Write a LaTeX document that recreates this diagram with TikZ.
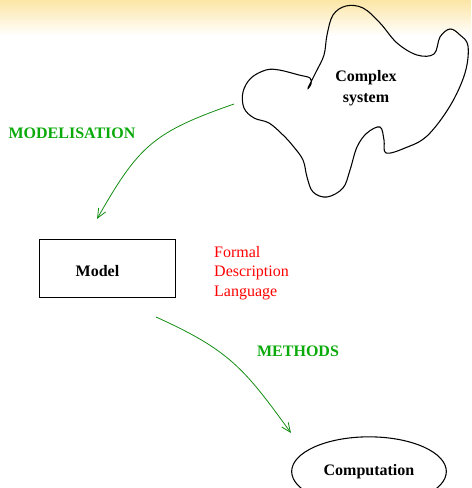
\documentclass[tikz,border=0pt]{standalone}
\usepackage{fontspec}
\setmainfont{Liberation Serif}
\usetikzlibrary{arrows.meta}
\usetikzlibrary{shapes.geometric}
\definecolor{bandtop}{RGB}{252,230,165}
\definecolor{labgreen}{RGB}{10,170,10}
\definecolor{arrgreen}{RGB}{20,140,20}

\begin{document}
\begin{tikzpicture}[x=0.75pt,y=-0.75pt,
    txt/.style={font=\fontsize{12}{15.5}\selectfont\bfseries},
    steplbl/.style={labgreen,font=\fontsize{12}{15}\selectfont\bfseries},
    flow/.style={arrgreen,line width=0.6pt,-{Straight Barb[length=7pt,width=6pt]}}]
            \useasboundingbox (0,0) rectangle (471,488);
            \clip (0,0) rectangle (471,488);
            \shade[top color=bandtop,bottom color=white] (0,0) rectangle (471,36);

            % complex system
            \draw[black,line width=0.8pt] plot[smooth cycle,tension=0.6] coordinates {
                (308,88) (316,72) (324,55) (327,35) (333,15) (346,6) (363,8) (380,23)
                (397,43) (417,55) (434,54) (440,37) (450,29) (460,35) (468,46) (465,73)
                (450,106) (427,136) (405,148) (386,153) (384,140) (380,127) (367,133)
                (357,147) (350,170) (343,188) (327,197) (313,192) (307,177) (303,160)
                (293,146) (283,135) (269,123) (254,118) (244,108) (243,92) (251,78)
                (266,70) (279,70) (299,75) (310,78) (311,84)};
            \node[txt,align=center] (system) at (366,88.5) {Complex\\system};

            % model
            \node[draw,black,line width=0.8pt,minimum width=102pt,minimum height=43.5pt] (model) at (107.5,268.5) {};
            \node[txt] (modeltxt) at (97.5,271.5) {Model};
            \node[red,anchor=west,align=left,font=\fontsize{12}{14.6}\selectfont] (fdl) at (209.5,273) {Formal\\Description\\Language};

            % computation
            \node[ellipse,draw,black,line width=0.8pt,minimum width=116pt,minimum height=52pt,inner sep=0pt,txt] (comp) at (369,471.5) {Computation};

            % arrows
            \coordinate (sysout) at (234,104);
            \coordinate (modelin) at (97,219);
            \coordinate (modelout) at (156,317);
            \coordinate (compin) at (291,433);
            \draw[flow] (sysout) .. controls (154,132) and (139,145) .. (modelin);
            \node[steplbl] (modlbl) at (72,133) {MODELISATION};
            \draw[flow] (modelout) .. controls (229,350) and (244,368) .. (compin);
            \node[steplbl] (methlbl) at (298,351) {METHODS};
\end{tikzpicture}
\end{document}
